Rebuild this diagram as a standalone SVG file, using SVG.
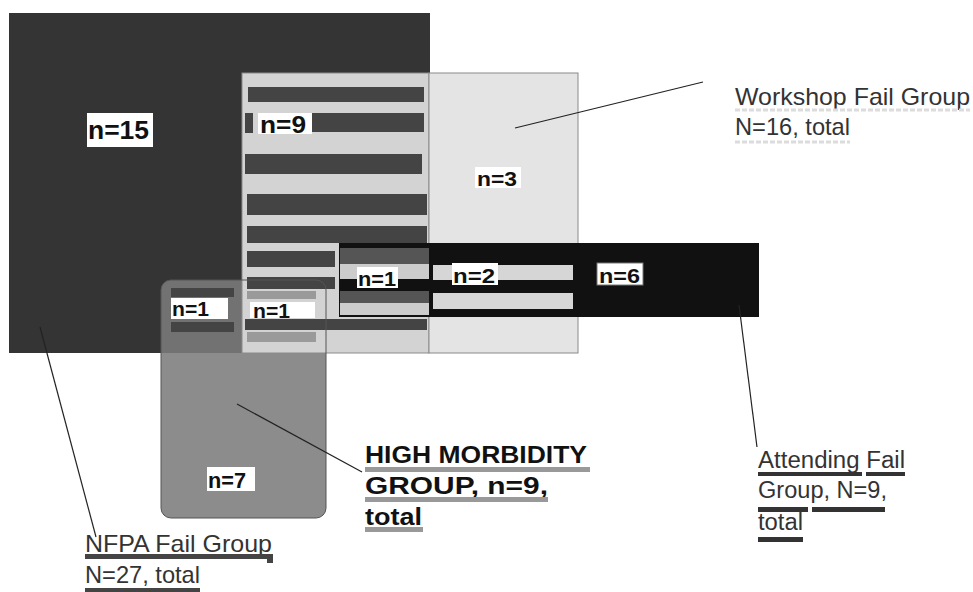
<svg xmlns="http://www.w3.org/2000/svg" width="973" height="592" viewBox="0 0 973 592">
<style>
.lbl{fill:#fff}
.nt{font-family:"Liberation Sans",Arial,sans-serif;font-weight:bold;fill:#111}
.cap{font-family:"Liberation Sans",Arial,sans-serif;fill:#333}
.hm{font-family:"Liberation Sans",Arial,sans-serif;font-weight:bold;fill:#111}
.ds{fill:#444}
.lead{stroke:#222;stroke-width:1.2;fill:none}
</style>
<defs>
<clipPath id="hmclip"><rect x="161" y="280" width="165" height="238" rx="10"/></clipPath>
</defs>
<rect width="973" height="592" fill="#fff"/>

<g id="nfpa">
<rect x="9" y="13" width="421" height="340" fill="#343434"/>
<rect class="lbl" x="87" y="113" width="66" height="34"/>
<text class="nt" x="88" y="139" font-size="26" textLength="61" lengthAdjust="spacingAndGlyphs">n=15</text>
</g>

<g id="high-morbidity">
<rect x="161" y="280" width="165" height="238" rx="10" fill="#8c8c8c"/>
<rect x="161" y="280" width="81" height="73" fill="#727272" clip-path="url(#hmclip)"/>
<rect class="ds" x="171" y="288" width="63" height="9"/>
<rect class="ds" x="171" y="322" width="63" height="10"/>
<rect class="lbl" x="171" y="298" width="57" height="21"/>
<text class="nt" x="172" y="316" font-size="21" textLength="37" lengthAdjust="spacingAndGlyphs">n=1</text>
<rect class="lbl" x="207" y="467" width="48" height="24"/>
<text class="nt" x="208" y="488" font-size="22" textLength="38" lengthAdjust="spacingAndGlyphs">n=7</text>
</g>

<g id="workshop">
<rect x="242" y="73" width="187" height="280" fill="#d3d3d3" stroke="#8a8a8a"/>
<rect x="429" y="73" width="149" height="280" fill="#e4e4e4" stroke="#8a8a8a"/>
<rect class="ds" x="248" y="87" width="176" height="15"/>
<rect class="ds" x="245" y="113" width="8" height="20"/>
<rect class="ds" x="312" y="113" width="112" height="19"/>
<rect class="lbl" x="258" y="113" width="54" height="21"/>
<text class="nt" x="260" y="133" font-size="23" textLength="46" lengthAdjust="spacingAndGlyphs">n=9</text>
<rect class="ds" x="245" y="154" width="177" height="20"/>
<rect class="ds" x="247" y="194" width="180" height="21"/>
<rect class="ds" x="247" y="226" width="180" height="17"/>
<rect class="ds" x="247" y="251" width="88" height="16"/>
<rect class="ds" x="247" y="277" width="88" height="12"/>
<rect class="ds" x="245" y="319" width="182" height="11"/>
<rect x="247" y="291" width="69" height="8" fill="#9a9a9a"/>
<rect x="247" y="332" width="69" height="10" fill="#9a9a9a"/>
<rect class="lbl" x="250" y="302" width="65" height="16"/>
<text class="nt" x="253" y="318" font-size="20" textLength="37" lengthAdjust="spacingAndGlyphs">n=1</text>
<rect class="lbl" x="475" y="167" width="46" height="21"/>
<text class="nt" x="477" y="186" font-size="20" textLength="40" lengthAdjust="spacingAndGlyphs">n=3</text>
</g>

<g id="attending">
<rect x="339" y="243" width="420" height="74" fill="#111"/>
<rect x="340" y="248" width="89" height="16" fill="#555"/>
<rect x="340" y="264" width="89" height="15" fill="#ccc"/>
<rect x="340" y="291" width="89" height="12" fill="#555"/>
<rect x="340" y="303" width="89" height="12" fill="#ccc"/>
<rect x="433" y="265" width="140" height="15" fill="#d6d6d6"/>
<rect x="433" y="293" width="140" height="16" fill="#d6d6d6"/>
<rect class="lbl" x="357" y="267" width="41" height="21"/>
<text class="nt" x="358" y="286" font-size="21" textLength="38" lengthAdjust="spacingAndGlyphs">n=1</text>
<rect class="lbl" x="452" y="263" width="46" height="22"/>
<text class="nt" x="453" y="283" font-size="21" textLength="42" lengthAdjust="spacingAndGlyphs">n=2</text>
<rect class="lbl" x="597" y="263" width="46" height="22" stroke="#777"/>
<text class="nt" x="599" y="283" font-size="21" textLength="41" lengthAdjust="spacingAndGlyphs">n=6</text>
</g>

<rect x="161" y="280" width="165" height="238" rx="10" fill="none" stroke="#555" stroke-width="1"/>

<g id="connectors">
<line class="lead" x1="515" y1="128" x2="703" y2="82"/>
<line class="lead" x1="40" y1="327" x2="96" y2="537"/>
<line class="lead" x1="237" y1="404" x2="362" y2="472"/>
<line class="lead" x1="739" y1="305" x2="757" y2="447"/>
</g>

<g id="label-workshop">
<text class="cap" x="735" y="105" font-size="24" textLength="235" lengthAdjust="spacingAndGlyphs">Workshop Fail Group</text>
<text class="cap" x="735" y="135" font-size="24" textLength="115" lengthAdjust="spacingAndGlyphs">N=16, total</text>
<line x1="735" y1="110" x2="970" y2="110" stroke="#dcdcdc" stroke-width="3" stroke-dasharray="5 2"/>
<line x1="735" y1="142" x2="850" y2="142" stroke="#dcdcdc" stroke-width="3" stroke-dasharray="5 2"/>
</g>

<g id="label-high-morbidity">
<text class="hm" x="365" y="463" font-size="24" textLength="222" lengthAdjust="spacingAndGlyphs">HIGH MORBIDITY</text>
<text class="hm" x="365" y="494" font-size="24" textLength="183" lengthAdjust="spacingAndGlyphs">GROUP, n=9,</text>
<text class="hm" x="365" y="525" font-size="24" textLength="57" lengthAdjust="spacingAndGlyphs">total</text>
<rect x="365" y="467" width="225" height="5" fill="#999"/>
<rect x="365" y="497" width="183" height="5" fill="#999"/>
<rect x="365" y="527" width="58" height="5" fill="#999"/>
</g>

<g id="label-nfpa">
<text class="cap" x="85" y="552" font-size="24" textLength="187" lengthAdjust="spacingAndGlyphs">NFPA Fail Group</text>
<text class="cap" x="85" y="583" font-size="24" textLength="115" lengthAdjust="spacingAndGlyphs">N=27, total</text>
<rect x="85" y="554" width="185" height="5" fill="#444"/>
<rect x="267" y="554" width="6" height="9" fill="#444"/>
<rect x="85" y="588" width="115" height="4" fill="#444"/>
</g>

<g id="label-attending">
<text class="cap" x="758" y="468" font-size="23" textLength="147" lengthAdjust="spacingAndGlyphs">Attending Fail</text>
<text class="cap" x="758" y="498" font-size="23" textLength="129" lengthAdjust="spacingAndGlyphs">Group, N=9,</text>
<text class="cap" x="758" y="530" font-size="23" textLength="45" lengthAdjust="spacingAndGlyphs">total</text>
<rect x="758" y="472" width="104" height="4" fill="#333"/>
<rect x="866" y="472" width="39" height="4" fill="#333"/>
<rect x="758" y="507" width="50" height="5" fill="#333"/>
<rect x="812" y="507" width="73" height="5" fill="#333"/>
<rect x="758" y="537" width="45" height="5" fill="#333"/>
</g>
</svg>
